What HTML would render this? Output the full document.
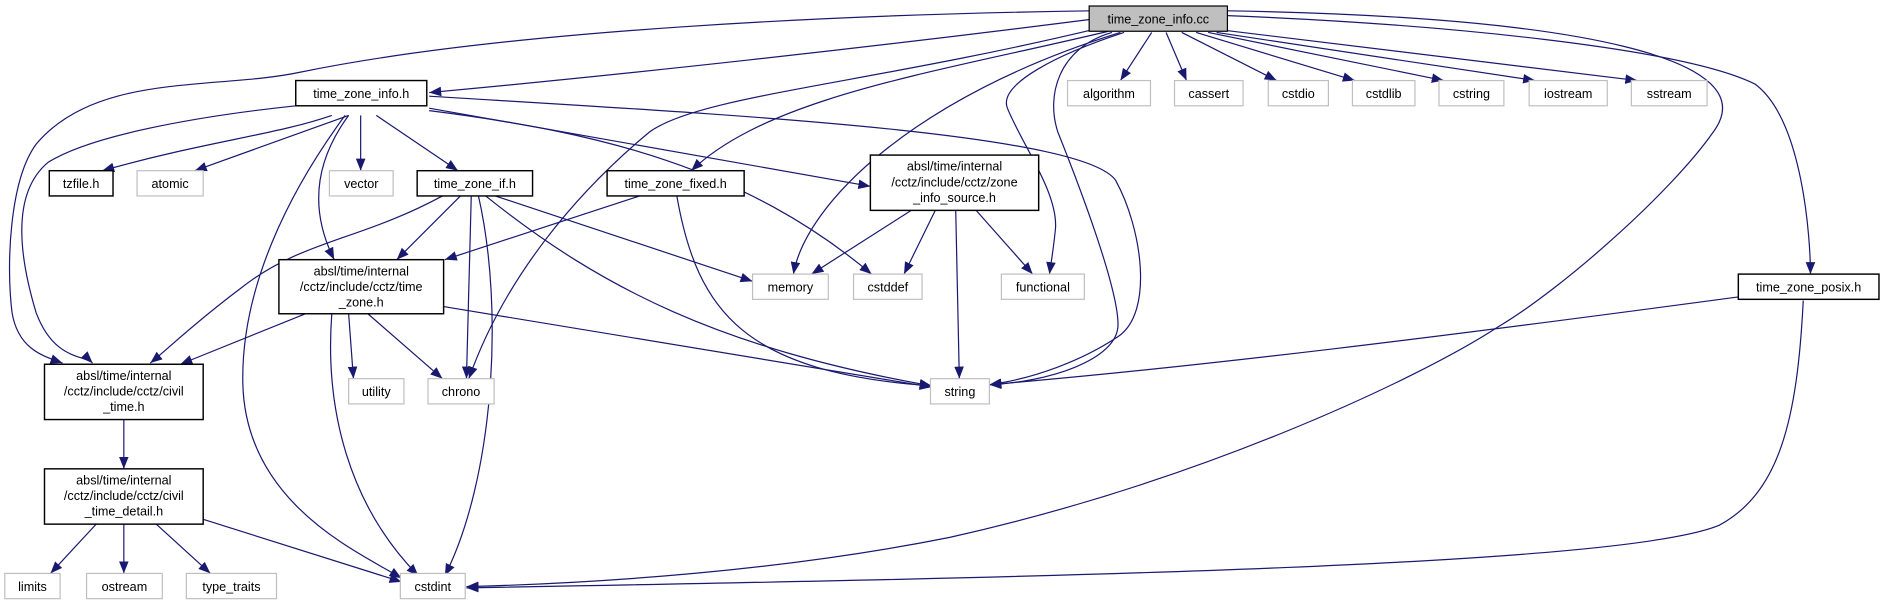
<!DOCTYPE html>
<html><head><meta charset="utf-8"><style>
html,body{margin:0;padding:0;background:#fff;}
svg{display:block;}
text{font-family:"Liberation Sans",sans-serif;font-size:10.5px;fill:#000;text-anchor:middle;}
.e{fill:none;stroke:#191970;stroke-width:1;marker-end:url(#a);}
.b{fill:#fff;stroke:#000;stroke-width:1.2;}
.g{fill:#fff;stroke:#bfbfbf;stroke-width:1;}
</style></head><body>
<svg width="1885" height="603" viewBox="0 0 1568 501.6" xmlns="http://www.w3.org/2000/svg">
<defs><marker id="a" markerUnits="userSpaceOnUse" markerWidth="12" markerHeight="10" refX="10" refY="4" orient="auto"><path d="M0,0 L10,4 L0,8 Z" fill="#191970"/></marker></defs>
<path class="e" d="M908,9 C700,12 420,25 250,60 C180,75 80,60 30,120 C8,150 5,220 10,260 C15,290 35,296 52,302"/>
<path class="e" d="M908,16 C720,40 520,62 357,77"/>
<path class="e" d="M912,24 C720,70 580,80 540,110 C480,160 420,230 390,315"/>
<path class="e" d="M922,26 C780,60 640,80 575,142"/>
<path class="e" d="M932,27 C760,80 670,170 660,228"/>
<path class="e" d="M935,27 C880,45 830,70 838,90 C850,120 880,160 878,190 C876,210 874,220 873,228"/>
<path class="e" d="M925,27 C880,40 870,80 880,110 C900,160 930,240 930,270 C930,300 870,318 823,320"/>
<path class="e" d="M958,27 L932,67"/>
<path class="e" d="M970,27 L987,67"/>
<path class="e" d="M983,27 L1062,67"/>
<path class="e" d="M995,27 L1127,67"/>
<path class="e" d="M1005,27 L1201,67"/>
<path class="e" d="M1012,27 L1277,67"/>
<path class="e" d="M1017,25 L1362,67"/>
<path class="e" d="M1021,9 C1320,14 1470,50 1425,110 C1390,160 1300,240 1246,272 C1180,315 1000,400 790,447 C650,475 500,485 388,488"/>
<path class="e" d="M1021,13 C1200,20 1400,40 1460,70 C1500,100 1506,200 1506,228"/>
<path class="e" d="M1500,250 C1495,350 1480,410 1430,437 C1350,470 900,480 388,489"/>
<path class="e" d="M1446,247 C1200,280 1000,305 823,320"/>
<path class="e" d="M276,96 C230,112 170,118 85,142"/>
<path class="e" d="M290,96 L162,142"/>
<path class="e" d="M300,96 L300,142"/>
<path class="e" d="M313,96 L381,142"/>
<path class="e" d="M246,88 C180,95 80,110 40,135 C10,160 15,210 30,260 C45,300 70,295 77,302"/>
<path class="e" d="M290,96 C265,130 255,170 278,216"/>
<path class="e" d="M287,96 C240,160 200,240 202,320 C205,420 300,460 334,481"/>
<path class="e" d="M357,90 L724,155"/>
<path class="e" d="M357,92 C500,110 620,140 725,228"/>
<path class="e" d="M357,80 C600,95 900,110 928,150 C950,190 960,260 930,280 C900,300 860,315 823,320"/>
<path class="e" d="M368,163 C300,200 250,200 200,240 C160,270 140,290 125,302"/>
<path class="e" d="M383,163 L330,216"/>
<path class="e" d="M392,163 L388,315"/>
<path class="e" d="M398,163 C420,260 410,400 370,479"/>
<path class="e" d="M412,163 L626,234"/>
<path class="e" d="M404,163 C500,240 600,290 775,321"/>
<path class="e" d="M532,163 L370,216"/>
<path class="e" d="M563,163 C580,260 620,310 775,321"/>
<path class="e" d="M758,175 L675,228"/>
<path class="e" d="M778,175 L752,228"/>
<path class="e" d="M795,175 L798,315"/>
<path class="e" d="M812,175 L859,228"/>
<path class="e" d="M254,261 L150,303"/>
<path class="e" d="M290,261 L294,315"/>
<path class="e" d="M306,261 L368,315"/>
<path class="e" d="M276,261 C270,340 290,420 348,479"/>
<path class="e" d="M369,255 L775,322"/>
<path class="e" d="M103,349 L103,390"/>
<path class="e" d="M80,436 L42,477"/>
<path class="e" d="M103,436 L103,477"/>
<path class="e" d="M130,436 L175,477"/>
<path class="e" d="M169,432 L334,484"/>
<rect x="906" y="5" width="115" height="21" fill="#bfbfbf" stroke="#000"/><text x="963.5" y="19.5">time_zone_info.cc</text>
<rect class="b" x="246" y="67" width="109" height="21"/><text x="300.5" y="81.5">time_zone_info.h</text>
<rect class="g" x="888" y="67" width="69" height="21"/><text x="922.5" y="81.5">algorithm</text>
<rect class="g" x="977" y="67" width="57" height="21"/><text x="1005.5" y="81.5">cassert</text>
<rect class="g" x="1055" y="67" width="50" height="21"/><text x="1080" y="81.5">cstdio</text>
<rect class="g" x="1125" y="67" width="52" height="21"/><text x="1151" y="81.5">cstdlib</text>
<rect class="g" x="1197" y="67" width="54" height="21"/><text x="1224" y="81.5">cstring</text>
<rect class="g" x="1272" y="67" width="65" height="21"/><text x="1304.5" y="81.5">iostream</text>
<rect class="g" x="1357" y="67" width="63" height="21"/><text x="1388.5" y="81.5">sstream</text>
<rect class="b" x="41" y="142" width="53" height="21"/><text x="67.5" y="156.5">tzfile.h</text>
<rect class="g" x="114" y="142" width="55" height="21"/><text x="141.5" y="156.5">atomic</text>
<rect class="g" x="274" y="142" width="53" height="21"/><text x="300.5" y="156.5">vector</text>
<rect class="b" x="347" y="142" width="96" height="21"/><text x="395" y="156.5">time_zone_if.h</text>
<rect class="b" x="505" y="142" width="114" height="21"/><text x="562" y="156.5">time_zone_fixed.h</text>
<rect class="b" x="724" y="129" width="140" height="46"/><text x="794" y="142">absl/time/internal</text><text x="794" y="155">/cctz/include/cctz/zone</text><text x="794" y="168">_info_source.h</text>
<rect class="b" x="232" y="216" width="137" height="45"/><text x="300.5" y="229">absl/time/internal</text><text x="300.5" y="242">/cctz/include/cctz/time</text><text x="300.5" y="255">_zone.h</text>
<rect class="g" x="626" y="228" width="63" height="21"/><text x="657.5" y="242.5">memory</text>
<rect class="g" x="710" y="228" width="57" height="21"/><text x="738.5" y="242.5">cstddef</text>
<rect class="g" x="833" y="228" width="69" height="21"/><text x="867.5" y="242.5">functional</text>
<rect class="b" x="1446" y="228" width="117" height="21"/><text x="1504.5" y="242.5">time_zone_posix.h</text>
<rect class="b" x="37" y="303" width="132" height="46"/><text x="103" y="316">absl/time/internal</text><text x="103" y="329">/cctz/include/cctz/civil</text><text x="103" y="342">_time.h</text>
<rect class="g" x="290" y="315" width="46" height="21"/><text x="313" y="329.5">utility</text>
<rect class="g" x="356" y="315" width="55" height="21"/><text x="383.5" y="329.5">chrono</text>
<rect class="g" x="774" y="315" width="49" height="21"/><text x="798.5" y="329.5">string</text>
<rect class="b" x="37" y="390" width="132" height="46"/><text x="103" y="403">absl/time/internal</text><text x="103" y="416">/cctz/include/cctz/civil</text><text x="103" y="429">_time_detail.h</text>
<rect class="g" x="4" y="477" width="46" height="21"/><text x="27" y="491.5">limits</text>
<rect class="g" x="72" y="477" width="63" height="21"/><text x="103.5" y="491.5">ostream</text>
<rect class="g" x="155" y="477" width="75" height="21"/><text x="192.5" y="491.5">type_traits</text>
<rect class="g" x="333" y="477" width="54" height="21"/><text x="360" y="491.5">cstdint</text>
</svg>
</body></html>
